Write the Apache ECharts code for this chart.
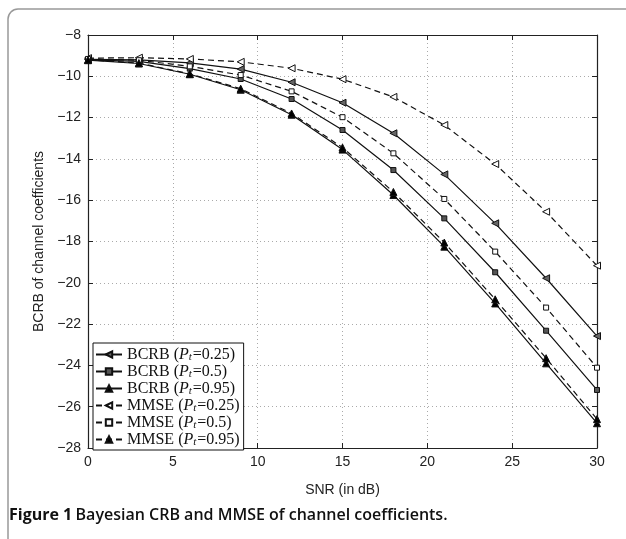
<!DOCTYPE html>
<html><head><meta charset="utf-8">
<script src="https://cdn.jsdelivr.net/npm/echarts@6/dist/echarts.min.js"></script>
<style>html,body{margin:0;padding:0;background:#fff}#c{width:626px;height:539px}</style>
</head><body><div id="c"></div>
<script>
const snr = [0, 3, 6, 9, 12, 15, 18, 21, 24, 27, 30];
const bcrb025 = [-9.18, -9.20, -9.35, -9.65, -10.29, -11.28, -12.76, -14.75, -17.12, -19.78, -22.58];
const bcrb05  = [-9.20, -9.28, -9.63, -10.13, -11.10, -12.60, -14.54, -16.88, -19.49, -22.32, -25.19];
const bcrb095 = [-9.22, -9.38, -9.90, -10.65, -11.86, -13.55, -15.75, -18.25, -21.00, -23.90, -26.80];
const mmse025 = [-9.12, -9.10, -9.16, -9.30, -9.61, -10.14, -11.00, -12.36, -14.25, -16.56, -19.17];
const mmse05  = [-9.16, -9.22, -9.52, -9.94, -10.73, -11.98, -13.73, -15.94, -18.49, -21.20, -24.11];
const mmse095 = [-9.20, -9.36, -9.88, -10.60, -11.80, -13.45, -15.60, -18.05, -20.80, -23.65, -26.60];
const xTicks = [0, 5, 10, 15, 20, 25, 30];
const yTicks = [-28, -26, -24, -22, -20, -18, -16, -14, -12, -10, -8];
const pValues = ['0.25', '0.5', '0.95', '0.25', '0.5', '0.95'];
const methods = ['BCRB', 'BCRB', 'BCRB', 'MMSE', 'MMSE', 'MMSE'];
const seriesData = [bcrb025, bcrb05, bcrb095, mmse025, mmse05, mmse095];

const leftTri = 'path://M0,5 L9,0 L9,10 Z';
const symbols = [leftTri, 'rect', 'triangle', leftTri, 'rect', 'triangle'];
const symSizes = [[7,7], 5, 7, [7,7], 5, 7];
const fills = ['#666', '#555', '#000', '#fff', '#fff', '#000'];

const series = seriesData.map((d, i) => ({
  name: methods[i] + ' (Pt=' + pValues[i] + ')',
  type: 'line',
  data: snr.map((x, j) => [x, d[j]]),
  symbol: symbols[i],
  symbolSize: symSizes[i],
  showAllSymbol: true,
  lineStyle: { color: '#111', width: 1.2, type: i < 3 ? 'solid' : [6, 4] },
  itemStyle: { color: fills[i], borderColor: '#111', borderWidth: 1 },
  emphasis: { disabled: true },
  z: 3 + i
}));

const sans = "'Liberation Sans', Arial, Helvetica, sans-serif";
const serif = "'Liberation Serif', 'DejaVu Serif', serif";
const chart = echarts.init(document.getElementById('c'), null, { renderer: 'canvas' });
const axisLabelStyle = { color: '#222', fontSize: 14, fontFamily: sans };
chart.setOption({
  animation: false,
  backgroundColor: '#fff',
  graphic: [
    { type: 'rect', shape: { x: 8, y: 9, width: 800, height: 800, r: 10 },
      style: { fill: 'none', stroke: '#999', lineWidth: 1.5 }, silent: true, z: 0 },
    { type: 'text', left: 9, top: 507,
      style: { text: '{b|Figure 1} {m|Bayesian CRB and MMSE of channel coefficients.}',
        rich: {
          b: { fontFamily: 'Open Sans', fontWeight: 'bold', fontSize: 16, fill: '#111' },
          m: { fontFamily: 'Open Sans', fontWeight: 600, fontSize: 16, fill: '#111' }
        } } }
  ],
  grid: { left: 88, top: 35, width: 509, height: 413, containLabel: false },
  xAxis: [{
    type: 'value', min: 0, max: 30, interval: 5,
    name: 'SNR (in dB)', nameLocation: 'middle', nameGap: 35,
    nameTextStyle: { color: '#222', fontSize: 14, fontFamily: sans },
    axisLine: { show: true, onZero: false, lineStyle: { color: '#222', width: 1.2 } },
    axisTick: { show: true, inside: true, length: 5, lineStyle: { color: '#222' } },
    axisLabel: Object.assign({ margin: 7 }, axisLabelStyle),
    splitLine: { show: true, lineStyle: { color: '#aaa', type: [1, 3], width: 1 } }
  }, {
    type: 'value', min: 0, max: 30, interval: 5, position: 'top',
    axisLine: { show: true, onZero: false, lineStyle: { color: '#222', width: 1.2 } },
    axisTick: { show: true, inside: true, length: 5, lineStyle: { color: '#222' } },
    axisLabel: { show: false }, splitLine: { show: false }
  }],
  yAxis: [{
    type: 'value', min: -28, max: -8, interval: 2,
    name: 'BCRB of channel coefficients', nameLocation: 'middle', nameGap: 42, nameRotate: 90,
    nameTextStyle: { color: '#222', fontSize: 14, fontFamily: sans },
    axisLine: { show: true, onZero: false, lineStyle: { color: '#222', width: 1.2 } },
    axisTick: { show: true, inside: true, length: 5, lineStyle: { color: '#222' } },
    axisLabel: Object.assign({ margin: 7, formatter: v => String(v).replace('-', '\u2212') }, axisLabelStyle),
    splitLine: { show: true, lineStyle: { color: '#aaa', type: [1, 3], width: 1 } }
  }, {
    type: 'value', min: -28, max: -8, interval: 2, position: 'right',
    axisLine: { show: true, onZero: false, lineStyle: { color: '#222', width: 1.2 } },
    axisTick: { show: true, inside: true, length: 5, lineStyle: { color: '#222' } },
    axisLabel: { show: false }, splitLine: { show: false }
  }],
  legend: {
    orient: 'vertical', left: 93, top: 343,
    backgroundColor: '#fff', borderColor: '#111', borderWidth: 1,
    padding: [3, 4, 2, 2], itemGap: 0, itemWidth: 26, itemHeight: 8,
    selectedMode: false,
    formatter: name => {
      const m = name.split(' ')[0];
      const p = name.match(/=([0-9.]+)/)[1];
      return '{n|' + m + ' (}{p|P}{s|t}{n|=' + p + ')}';
    },
    textStyle: {
      rich: {
        n: { fontFamily: serif, fontSize: 16, color: '#111', lineHeight: 16 },
        p: { fontFamily: serif, fontStyle: 'italic', fontSize: 16, color: '#111', lineHeight: 16 },
        s: { fontFamily: serif, fontStyle: 'italic', fontSize: 11, color: '#111', lineHeight: 16, padding: [6, 1, 0, 0] }
      }
    },
    data: series.map(s => s.name)
  },
  series: series
});
</script></body></html>
